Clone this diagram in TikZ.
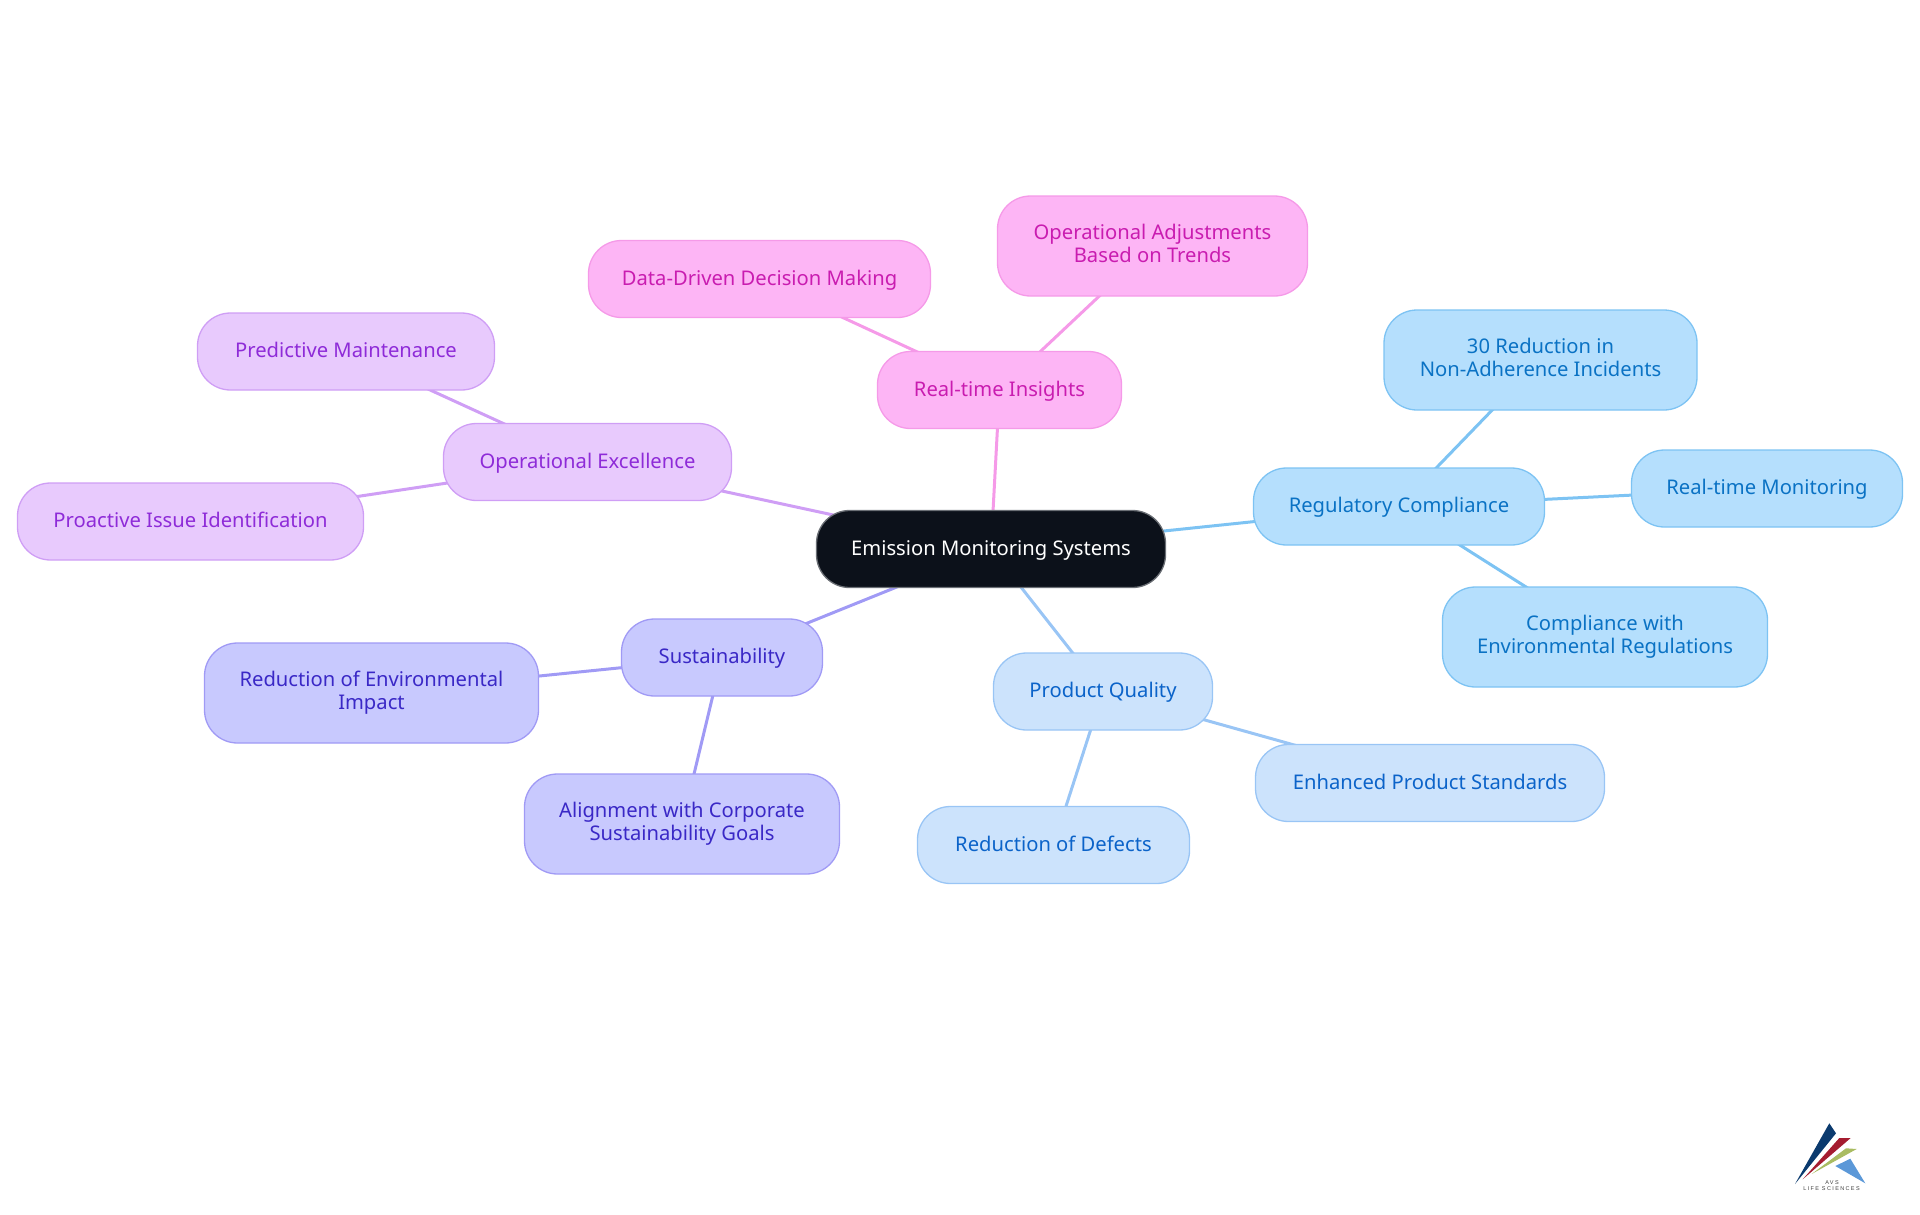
\documentclass[tikz,border=0pt]{standalone}
\usepackage{fontspec}
\setmainfont{Noto Sans}
\newfontfamily\logofont[LetterSpace=25]{Liberation Sans}
\usetikzlibrary{backgrounds}
\definecolor{rootfill}{HTML}{0C111A}\definecolor{rootline}{HTML}{6B6F75}
\definecolor{pqfill}{HTML}{CCE3FC}\definecolor{pqline}{HTML}{99C5F5}\definecolor{pqtext}{HTML}{0B63C9}
\definecolor{rgfill}{HTML}{B5DFFD}\definecolor{rgline}{HTML}{7DC3F3}\definecolor{rgtext}{HTML}{0A72C4}
\definecolor{sufill}{HTML}{C8C9FE}\definecolor{suline}{HTML}{A09AF5}\definecolor{sutext}{HTML}{3A28C6}
\definecolor{oefill}{HTML}{E8CAFD}\definecolor{oeline}{HTML}{CF9EF5}\definecolor{oetext}{HTML}{8E2BD8}
\definecolor{rifill}{HTML}{FDB5F5}\definecolor{riline}{HTML}{F59AE8}\definecolor{ritext}{HTML}{C91CB0}
\definecolor{lognavy}{HTML}{0B3A6E}\definecolor{logred}{HTML}{A51C30}\definecolor{loggreen}{HTML}{A9BC62}\definecolor{logblue}{HTML}{5B98D8}
\tikzset{
  box/.style={rectangle,rounded corners=33pt,line width=1.3pt,inner sep=0pt,outer sep=0pt,align=center,
    font=\fontsize{20.2}{23}\selectfont,text depth=5pt},
  single/.style={text height=17pt},
  rootbox/.style={box,fill=rootfill,draw=rootline,text=white},
  pqbox/.style={box,fill=pqfill,draw=pqline,text=pqtext},
  rgbox/.style={box,fill=rgfill,draw=rgline,text=rgtext},
  subox/.style={box,fill=sufill,draw=suline,text=sutext},
  oebox/.style={box,fill=oefill,draw=oeline,text=oetext},
  ribox/.style={box,fill=rifill,draw=riline,text=ritext},
  link/.style={line width=3pt},
  logotext/.style={inner sep=0pt,outer sep=0pt,text=black!75,font=\logofont\fontsize{5.5}{6}\selectfont}
}
\begin{document}
\begin{tikzpicture}[x=1pt,y=-1pt]
\useasboundingbox (0,0) rectangle (1920,1215);
\node[rootbox,single,minimum width=349pt,minimum height=77pt] (root) at (991,549) {Emission Monitoring Systems};
\node[pqbox,single,minimum width=219pt,minimum height=77pt] (pq) at (1103,691.5) {Product Quality};
\node[pqbox,single,minimum width=349pt,minimum height=77pt] (eps) at (1430,783) {Enhanced Product Standards};
\node[pqbox,single,minimum width=272pt,minimum height=77pt] (rod) at (1053.5,845) {Reduction of Defects};
\node[rgbox,single,minimum width=291pt,minimum height=77pt] (rg) at (1399,506.5) {Regulatory Compliance};
\node[rgbox,minimum width=313pt,minimum height=100pt] (tr) at (1540.5,360) {30 Reduction in\\Non-Adherence Incidents};
\node[rgbox,single,minimum width=271pt,minimum height=77pt] (rtm) at (1767,488.5) {Real-time Monitoring};
\node[rgbox,minimum width=325pt,minimum height=100pt] (cer) at (1605,637) {Compliance with\\Environmental Regulations};
\node[subox,single,minimum width=201pt,minimum height=77pt] (su) at (722,657.5) {Sustainability};
\node[subox,minimum width=334pt,minimum height=100pt] (roe) at (371.5,693) {Reduction of Environmental\\Impact};
\node[subox,minimum width=315pt,minimum height=100pt] (acs) at (682,824) {Alignment with Corporate\\Sustainability Goals};
\node[oebox,single,minimum width=288pt,minimum height=77pt] (oe) at (587.5,462) {Operational Excellence};
\node[oebox,single,minimum width=297pt,minimum height=77pt] (pm) at (346,351.5) {Predictive Maintenance};
\node[oebox,single,minimum width=346pt,minimum height=77pt] (pi) at (190.5,521.5) {Proactive Issue Identification};
\node[ribox,single,minimum width=244pt,minimum height=77pt] (ri) at (999.5,390) {Real-time Insights};
\node[ribox,single,minimum width=342pt,minimum height=77pt] (ddd) at (759.5,279) {Data-Driven Decision Making};
\node[ribox,minimum width=310pt,minimum height=100pt] (oa) at (1152.5,246) {Operational Adjustments\\Based on Trends};
\begin{pgfonlayer}{background}
\draw[link,draw=pqline] (root.center) -- (pq.center);
\draw[link,draw=pqline] (pq.center) -- (eps.center);
\draw[link,draw=pqline] (pq.center) -- (rod.center);
\draw[link,draw=rgline] (root.center) -- (rg.center);
\draw[link,draw=rgline] (rg.center) -- (tr.center);
\draw[link,draw=rgline] (rg.center) -- (rtm.center);
\draw[link,draw=rgline] (rg.center) -- (cer.center);
\draw[link,draw=suline] (root.center) -- (su.center);
\draw[link,draw=suline] (su.center) -- (roe.center);
\draw[link,draw=suline] (su.center) -- (acs.center);
\draw[link,draw=oeline] (root.center) -- (oe.center);
\draw[link,draw=oeline] (oe.center) -- (pm.center);
\draw[link,draw=oeline] (oe.center) -- (pi.center);
\draw[link,draw=riline] (root.center) -- (ri.center);
\draw[link,draw=riline] (ri.center) -- (ddd.center);
\draw[link,draw=riline] (ri.center) -- (oa.center);
\end{pgfonlayer}
\fill[lognavy] (1829.3,1123.3) -- (1836,1133.3) -- (1795,1184) -- cycle;
\fill[logred] (1839.3,1138) -- (1850.7,1138) -- (1802.7,1179.3) -- cycle;
\fill[loggreen] (1846,1148.3) -- (1856.7,1149) -- (1811.7,1174) -- cycle;
\fill[logblue] (1850.3,1158.7) -- (1865.3,1183.3) -- (1835.3,1166) -- cycle;
\node[logotext] (avs) at (1832,1182.5) {AVS};
\node[logotext] (life) at (1831.5,1189) {LIFE SCIENCES};
\end{tikzpicture}
\end{document}
